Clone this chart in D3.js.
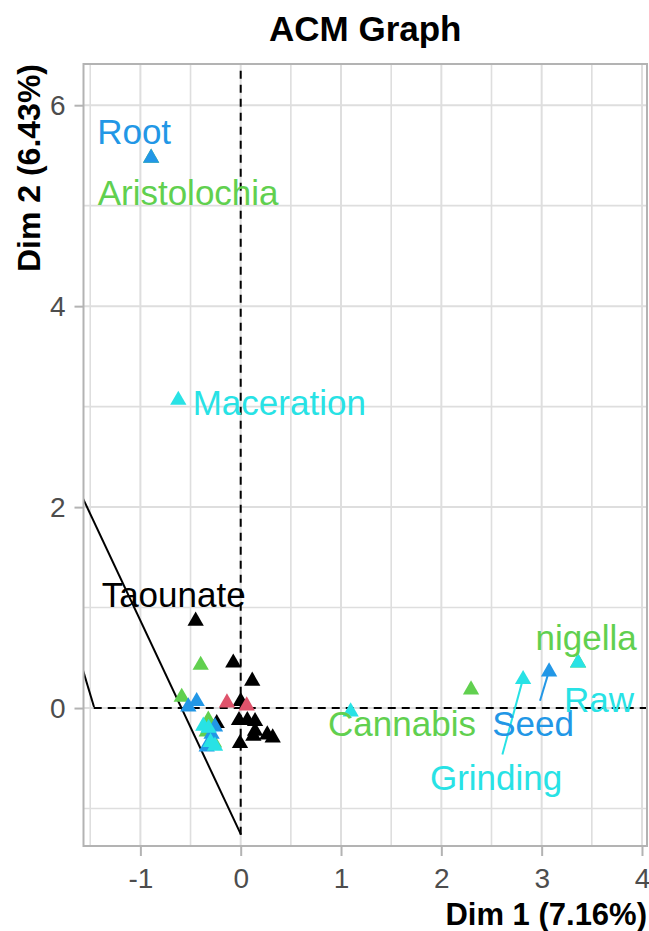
<!DOCTYPE html>
<html>
<head>
<meta charset="utf-8">
<script src="https://cdn.jsdelivr.net/npm/d3@7/dist/d3.min.js"></script>
<style>
  html, body { margin: 0; padding: 0; background: #fff; }
  svg { display: block; font-family: "Liberation Sans", Arial, Helvetica, sans-serif; }
</style>
</head>
<body>
<svg id="chart" width="649" height="931"></svg>
<script>
// MCA category coordinates on the first two dimensions, one pair of arrays per variable
const cityDim1 = [-0.449, -0.074, 0.115, 0.000, -0.017, 0.066, 0.143, 0.143, 0.126, 0.265, 0.319, -0.007, -0.239];
const cityDim2 = [ 0.876,  0.460, 0.279, 0.077, -0.112, -0.112, -0.122, -0.219, -0.269, -0.256, -0.286, -0.341, -0.142];
const cityNames = ["Taounate", "", "", "", "", "", "", "", "", "", "", "", ""];

const genderDim1 = [-0.137, 0.060];
const genderDim2 = [ 0.063, 0.033];
const genderNames = ["", ""];

const plantDim1 = [-0.893, 2.296, 3.363, -0.399, -0.588, -0.323, -0.339, -0.266, -0.300];
const plantDim2 = [ 5.485, 0.192, 0.461,  0.438,  0.119, -0.109, -0.226, -0.335, -0.160];
const plantNames = ["Aristolochia", "Cannabis", "nigella", "", "", "", "", "", ""];

const partDim1 = [-0.893, 3.074, -0.522, -0.439, -0.256, -0.339, -0.290];
const partDim2 = [ 5.485, 0.371,  0.023,  0.077, -0.176, -0.375, -0.250];
const partNames = ["Root", "Seed", "", "", "", "", ""];

const prepDim1 = [-0.622, 3.363, 2.815, 1.096, -0.373, -0.320, -0.256, -0.300];
const prepDim2 = [ 3.075, 0.461, 0.295, -0.027, -0.169, -0.190, -0.368, -0.330];
const prepNames = ["Maceration", "Raw", "Grinding", "", "", "", "", ""];

const groupColors = ["#000000", "#DF536B", "#61D04F", "#2297E6", "#28E2E5"];

// Axis ticks
const xTicks = [-1, 0, 1, 2, 3, 4];
const xMinor = [-1.5, -0.5, 0.5, 1.5, 2.5, 3.5];
const yTicks = [0, 2, 4, 6];
const yMinor = [-1, 1, 3, 5];

const chartTitle = "ACM Graph";
const xTitle = "Dim 1 (7.16%)";
const yTitle = "Dim 2 (6.43%)";

// Build the point table
const groups = [
  [cityDim1, cityDim2, cityNames],
  [genderDim1, genderDim2, genderNames],
  [plantDim1, plantDim2, plantNames],
  [partDim1, partDim2, partNames],
  [prepDim1, prepDim2, prepNames]
];
const points = [];
groups.forEach(([d1, d2, nm], g) => {
  d1.forEach((v, i) => points.push({ x: v, y: d2[i], name: nm[i], color: groupColors[g] }));
});

// Repelled label placement (pixel offsets from the point) and leader lines
const labelOffset = {
  "Root": [-17, -25], "Aristolochia": [37, 36], "Maceration": [101, 3],
  "Taounate": [-22, -26], "Cannabis": [-69, 35], "nigella": [8, -24],
  "Raw": [21, 38], "Seed": [-16, 53], "Grinding": [-27, 99]
};
const withLeader = new Set(["Seed", "Grinding"]);

const svg = d3.select("#chart");
const W = 649, H = 931;
const panel = { left: 83.5, right: 647, top: 64, bottom: 846 };

const x = d3.scaleLinear().domain([-1.567, 4.05]).range([panel.left, panel.right]);
const y = d3.scaleLinear().domain([-1.373, 6.41]).range([panel.bottom, panel.top]);

svg.append("rect").attr("width", W).attr("height", H).attr("fill", "#fff");

svg.append("defs").append("clipPath").attr("id", "panel-clip")
  .append("rect")
  .attr("x", panel.left).attr("y", panel.top)
  .attr("width", panel.right - panel.left).attr("height", panel.bottom - panel.top);

const grid = svg.append("g");
// minor grid
grid.selectAll(".vmin").data(xMinor).join("line")
  .attr("x1", d => x(d)).attr("x2", d => x(d))
  .attr("y1", panel.top).attr("y2", panel.bottom)
  .attr("stroke", "#DEDEDE").attr("stroke-width", 1.6);
grid.selectAll(".hmin").data(yMinor).join("line")
  .attr("y1", d => y(d)).attr("y2", d => y(d))
  .attr("x1", panel.left).attr("x2", panel.right)
  .attr("stroke", "#DEDEDE").attr("stroke-width", 1.6);
// major grid
grid.selectAll(".vmaj").data(xTicks).join("line")
  .attr("x1", d => x(d)).attr("x2", d => x(d))
  .attr("y1", panel.top).attr("y2", panel.bottom)
  .attr("stroke", "#DEDEDE").attr("stroke-width", 2);
grid.selectAll(".hmaj").data(yTicks).join("line")
  .attr("y1", d => y(d)).attr("y2", d => y(d))
  .attr("x1", panel.left).attr("x2", panel.right)
  .attr("stroke", "#DEDEDE").attr("stroke-width", 2);

const plot = svg.append("g").attr("clip-path", "url(#panel-clip)");

// reference axes through the origin
plot.append("line")
  .attr("x1", x(-1.465)).attr("x2", x(4.05)).attr("y1", y(0)).attr("y2", y(0))
  .attr("stroke", "#000").attr("stroke-width", 2).attr("stroke-dasharray", "8,6");
plot.append("line")
  .attr("x1", x(0)).attr("x2", x(0)).attr("y1", y(-1.26)).attr("y2", y(6.41))
  .attr("stroke", "#000").attr("stroke-width", 2).attr("stroke-dasharray", "8,6");

// straight guides on the left of the cloud
const guides = [
  [[0.003, -1.26], [-1.8, 2.57]],
  [[-1.462, 0.01], [-1.62, 0.537]]
];
plot.selectAll(".guide").data(guides).join("line")
  .attr("x1", d => x(d[0][0])).attr("y1", d => y(d[0][1]))
  .attr("x2", d => x(d[1][0])).attr("y2", d => y(d[1][1]))
  .attr("stroke", "#000").attr("stroke-width", 2);

// triangles
const tri = d3.symbol().type(d3.symbolTriangle).size(115);
plot.selectAll(".pt").data(points).join("path")
  .attr("d", tri)
  .attr("transform", d => `translate(${x(d.x)},${y(d.y) + 1})`)
  .attr("fill", d => d.color);

// labels
const fs = 35;
const labelled = points.filter(d => d.name);
labelled.forEach(d => {
  const [dx, dy] = labelOffset[d.name];
  d.lx = x(d.x) + dx;
  d.ly = y(d.y) + dy;
});

// leader segments from the label box to the point
labelled.filter(d => withLeader.has(d.name)).forEach(d => {
  const px = x(d.x), py = y(d.y);
  const vx = px - d.lx, vy = py - d.ly;
  const t0 = 23 / Math.abs(vy);
  plot.append("line")
    .attr("x1", d.lx + vx * t0).attr("y1", d.ly + vy * t0)
    .attr("x2", px - vx * 0.04).attr("y2", py - vy * 0.04)
    .attr("stroke", d.color).attr("stroke-width", 2);
});

svg.append("g").selectAll("text").data(labelled).join("text")
  .attr("x", d => d.lx).attr("y", d => d.ly + fs * 0.358)
  .attr("text-anchor", "middle")
  .attr("font-size", fs)
  .attr("fill", d => d.color)
  .text(d => d.name);

// panel border
svg.append("rect")
  .attr("x", panel.left).attr("y", panel.top)
  .attr("width", panel.right - panel.left).attr("height", panel.bottom - panel.top)
  .attr("fill", "none").attr("stroke", "#B3B3B3").attr("stroke-width", 2);

// axes
const xAxis = svg.append("g").attr("transform", `translate(0,${panel.bottom})`)
  .call(d3.axisBottom(x).tickValues(xTicks).tickSize(10).tickPadding(12).tickFormat(d3.format("d")));
const yAxis = svg.append("g").attr("transform", `translate(${panel.left},0)`)
  .call(d3.axisLeft(y).tickValues(yTicks).tickSize(9).tickPadding(9).tickFormat(d3.format("d")));
[xAxis, yAxis].forEach(a => {
  a.select(".domain").remove();
  a.selectAll(".tick line").attr("stroke", "#B3B3B3").attr("stroke-width", 2);
  a.selectAll(".tick text").attr("fill", "#4D4D4D").attr("font-size", 28)
    .attr("font-family", "'Liberation Sans', Arial, sans-serif");
});
xAxis.selectAll(".tick text").text(d => d < 0 ? "-" + Math.abs(d) : d);

// titles
svg.append("text")
  .attr("x", (panel.left + panel.right) / 2).attr("y", 41)
  .attr("text-anchor", "middle").attr("font-size", 35).attr("font-weight", "bold")
  .text(chartTitle);
svg.append("text")
  .attr("x", panel.right).attr("y", 925)
  .attr("text-anchor", "end").attr("font-size", 31).attr("font-weight", "bold")
  .text(xTitle);
svg.append("text")
  .attr("transform", `translate(40,${panel.top}) rotate(-90)`)
  .attr("text-anchor", "end").attr("font-size", 32).attr("font-weight", "bold")
  .text(yTitle);
</script>
</body>
</html>
